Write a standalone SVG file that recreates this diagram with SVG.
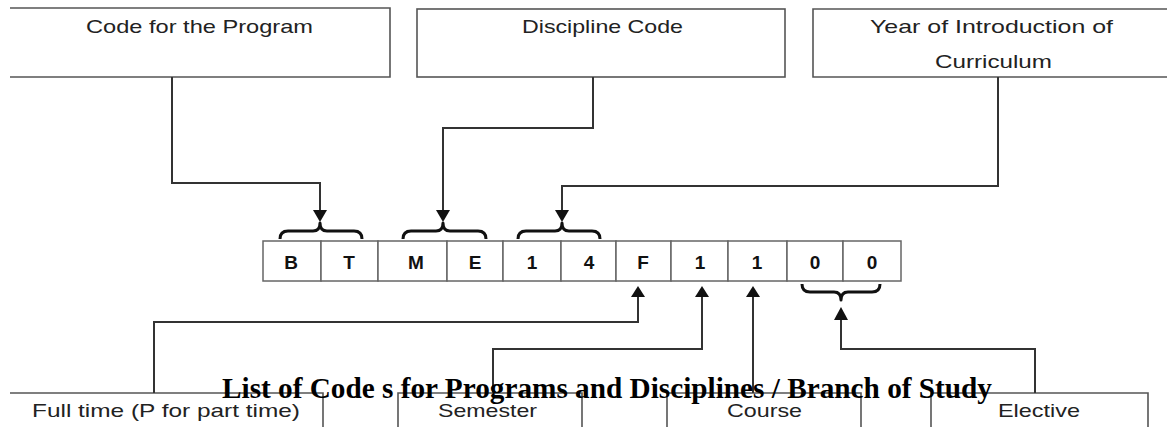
<svg xmlns="http://www.w3.org/2000/svg" width="1167" height="427" viewBox="0 0 1167 427">
<style>
.box{fill:none;stroke:#555;stroke-width:1.6}
.cell{fill:#fff;stroke:#666;stroke-width:1.5}
.lbl{font-family:"Liberation Sans",Arial,sans-serif;font-size:19px;fill:#222}
.ch{font-family:"Liberation Sans",Arial,sans-serif;font-size:19px;font-weight:bold;fill:#111;text-anchor:middle}
.con{fill:none;stroke:#333;stroke-width:2}
.brace{fill:none;stroke:#111;stroke-width:3;stroke-linejoin:round}
.ah{fill:#111}
.title{font-family:"Liberation Serif","Times New Roman",serif;font-size:29px;font-weight:bold;fill:#000}
</style>
<rect width="1167" height="427" fill="#fff"/>
<g id="node-program">
<path class="box" d="M10,8 H390 V77 H10"/>
<text class="lbl" x="86" y="33" textLength="227" lengthAdjust="spacingAndGlyphs">Code for the Program</text>
</g>
<g id="node-discipline">
<rect class="box" x="417" y="9" width="368" height="68"/>
<text class="lbl" x="522" y="33" textLength="161" lengthAdjust="spacingAndGlyphs">Discipline Code</text>
</g>
<g id="node-year">
<path class="box" d="M1167,9 H813 V77 H1167"/>
<text class="lbl" x="870" y="33" textLength="243" lengthAdjust="spacingAndGlyphs">Year of Introduction of</text>
<text class="lbl" x="935" y="68" textLength="117" lengthAdjust="spacingAndGlyphs">Curriculum</text>
</g>
<g id="node-code">
<rect class="cell" x="263" y="241" width="58" height="40"/>
<rect class="cell" x="321" y="241" width="57" height="40"/>
<rect class="cell" x="378" y="241" width="69" height="40"/>
<rect class="cell" x="447" y="241" width="56" height="40"/>
<rect class="cell" x="503" y="241" width="58" height="40"/>
<rect class="cell" x="561" y="241" width="55" height="40"/>
<rect class="cell" x="616" y="241" width="55" height="40"/>
<rect class="cell" x="671" y="241" width="57" height="40"/>
<rect class="cell" x="728" y="241" width="59" height="40"/>
<rect class="cell" x="787" y="241" width="56" height="40"/>
<rect class="cell" x="843" y="241" width="58" height="40"/>
<text class="ch" x="291" y="269">B</text>
<text class="ch" x="349" y="269">T</text>
<text class="ch" x="416" y="269">M</text>
<text class="ch" x="475" y="269">E</text>
<text class="ch" x="532" y="269">1</text>
<text class="ch" x="589" y="269">4</text>
<text class="ch" x="643" y="269">F</text>
<text class="ch" x="700" y="269">1</text>
<text class="ch" x="757" y="269">1</text>
<text class="ch" x="815" y="269">0</text>
<text class="ch" x="872" y="269">0</text>
</g>
<g id="node-fulltime">
<path class="box" d="M10,393 H323 V427"/>
<text class="lbl" x="32" y="417" textLength="268" lengthAdjust="spacingAndGlyphs">Full time (P for part time)</text>
</g>
<g id="node-semester">
<path class="box" d="M398,427 V393 H582 V427"/>
<text class="lbl" x="438" y="417" textLength="99" lengthAdjust="spacingAndGlyphs">Semester</text>
</g>
<g id="node-course">
<path class="box" d="M667,427 V393 H861 V427"/>
<text class="lbl" x="727" y="417" textLength="75" lengthAdjust="spacingAndGlyphs">Course</text>
</g>
<g id="node-elective">
<path class="box" d="M931,427 V393 H1148 V427"/>
<text class="lbl" x="998" y="417" textLength="82" lengthAdjust="spacingAndGlyphs">Elective</text>
</g>
<g id="connectors">
<path class="con" d="M172,77 V183 H320 V211"/>
<path class="con" d="M593,77 V128 H443 V211"/>
<path class="con" d="M998,77 V186 H562 V211"/>
<path class="con" d="M154,393 V322 H638 V296"/>
<path class="con" d="M493,393 V349 H702 V296"/>
<path class="con" d="M753,393 V296"/>
<path class="con" d="M1035,393 V349 H841 V319"/>
<polygon class="ah" points="313,210 327,210 320,222"/>
<polygon class="ah" points="436,210 450,210 443,222"/>
<polygon class="ah" points="555,210 569,210 562,222"/>
<polygon class="ah" points="631,297 645,297 638,286"/>
<polygon class="ah" points="695,297 709,297 702,286"/>
<polygon class="ah" points="746,297 760,297 753,286"/>
<polygon class="ah" points="834,320 848,320 841,307"/>
<path class="brace" d="M280,239 Q280,231 288,231 L313,231 Q320,231 320,223 Q320,231 327,231 L354,231 Q362,231 362,239"/>
<path class="brace" d="M403,239 Q403,231 411,231 L436,231 Q443,231 443,223 Q443,231 450,231 L478,231 Q486,231 486,239"/>
<path class="brace" d="M518,239 Q518,231 526,231 L555,231 Q562,231 562,223 Q562,231 569,231 L592,231 Q600,231 600,239"/>
<path class="brace" d="M802,284 Q802,292 810,292 L834,292 Q841,292 841,300 Q841,292 848,292 L872,292 Q880,292 880,284"/>
</g>
<text class="title" x="222" y="398" textLength="770" lengthAdjust="spacingAndGlyphs">List of Code s for Programs and Disciplines / Branch of Study</text>
</svg>
